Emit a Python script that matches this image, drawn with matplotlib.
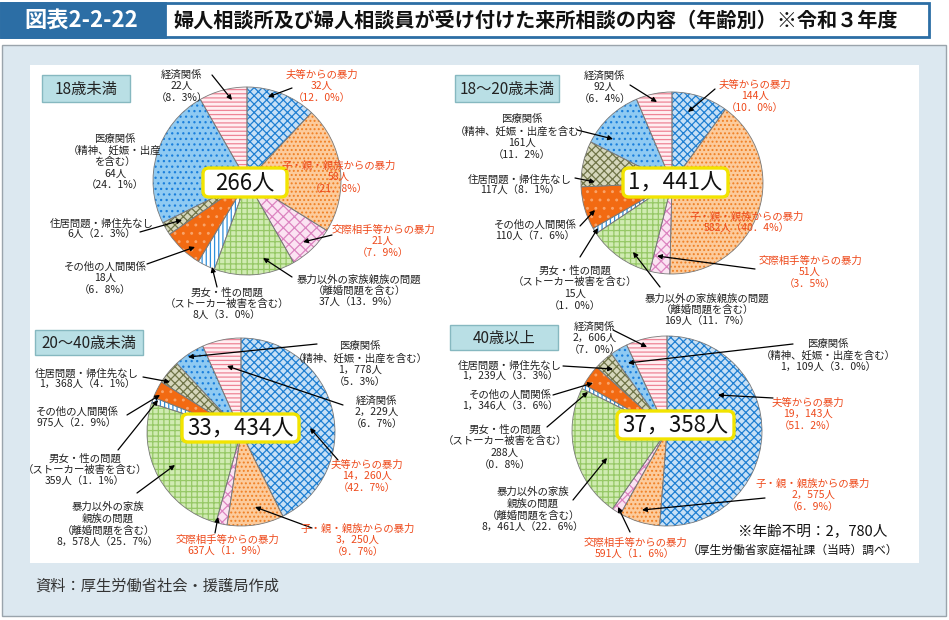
import matplotlib
matplotlib.use("Agg")
import matplotlib.pyplot as plt
from matplotlib.patches import Rectangle, FancyBboxPatch

plt.rcParams['font.family'] = ['Noto Sans CJK JP', 'DejaVu Sans']
plt.rcParams['hatch.linewidth'] = 0.9

W, H = 949, 620

# data
categories = ['夫等からの暴力', '子・親・親族からの暴力', '交際相手等からの暴力',
              '暴力以外の家族親族の問題', '男女・性の問題', 'その他の人間関係',
              '住居問題・帰住先なし', '医療関係', '経済関係']
age_groups = ['18歳未満', '18～20歳未満', '20～40歳未満', '40歳以上']
under18 = [32, 58, 21, 37, 8, 18, 6, 64, 22]
age18_20 = [144, 582, 51, 169, 15, 110, 117, 161, 92]
age20_40 = [14260, 3250, 637, 8578, 359, 975, 1368, 1778, 2229]
over40 = [19143, 2575, 591, 8461, 288, 1346, 1239, 1109, 2606]
unknown_age = 2780

title = '婦人相談所及び婦人相談員が受け付けた来所相談の内容（年齢別）※令和３年度'
fig_no = '図表2-2-22'
source = '資料：厚生労働省社会・援護局作成'
note = '（厚生労働省家庭福祉課（当時）調べ）'

# label texts per pie (category order)
tpl_18 = ['夫等からの暴力\n{n}人\n{p}', '子・親・親族からの暴力\n{n}人\n{p}',
          '交際相手等からの暴力\n{n}人\n{p}', '暴力以外の家族親族の問題\n（離婚問題を含む）\n{n}人{p}',
          '男女・性の問題\n（ストーカー被害を含む）\n{n}人{p}', 'その他の人間関係\n{n}人\n{p}',
          '住居問題・帰住先なし\n{n}人{p}', '医療関係\n（精神、妊娠・出産\nを含む）\n{n}人\n{p}',
          '経済関係\n{n}人\n{p}']
tpl_18_20 = ['夫等からの暴力\n{n}人\n{p}', '子・親・親族からの暴力\n{n}人{p}',
             '交際相手等からの暴力\n{n}人\n{p}', '暴力以外の家族親族の問題\n（離婚問題を含む）\n{n}人{p}',
             '男女・性の問題\n（ストーカー被害を含む）\n{n}人\n{p}', 'その他の人間関係\n{n}人{p}',
             '住居問題・帰住先なし\n{n}人{p}', '医療関係\n（精神、妊娠・出産を含む）\n{n}人\n{p}',
             '経済関係\n{n}人\n{p}']
tpl_20_40 = ['夫等からの暴力\n{n}人\n{p}', '子・親・親族からの暴力\n{n}人\n{p}',
             '交際相手等からの暴力\n{n}人{p}', '暴力以外の家族\n親族の問題\n（離婚問題を含む）\n{n}人{p}',
             '男女・性の問題\n（ストーカー被害を含む）\n{n}人{p}', 'その他の人間関係\n{n}人{p}',
             '住居問題・帰住先なし\n{n}人{p}', '医療関係\n（精神、妊娠・出産を含む）\n{n}人\n{p}',
             '経済関係\n{n}人\n{p}']
tpl_40 = ['夫等からの暴力\n{n}人\n{p}', '子・親・親族からの暴力\n{n}人\n{p}',
          '交際相手等からの暴力\n{n}人{p}', '暴力以外の家族\n親族の問題\n（離婚問題を含む）\n{n}人{p}',
          '男女・性の問題\n（ストーカー被害を含む）\n{n}人\n{p}', 'その他の人間関係\n{n}人{p}',
          '住居問題・帰住先なし\n{n}人{p}', '医療関係\n（精神、妊娠・出産を含む）\n{n}人{p}',
          '経済関係\n{n}人\n{p}']

# layout (pixels, origin top-left)
pie_pos = [((247, 181), 94), ((672, 183), 91), ((241, 432), 94), ((667, 431), 95)]
tag_box = [(42, 75, 88, 27), (455, 75, 104, 27), (35, 330, 108, 25), (450, 325, 108, 25)]
total_box = [(203, 168, 84, 29), (623, 168, 105, 29), (182, 414, 117, 28), (617, 411, 117, 28)]
# (text x, text y, arrow start, arrow end)
lab_18 = [(322, 86, (292, 88), (268, 97)), (339, 177, None, None),
          (383, 241, (332, 235), (303, 242)), (359, 291, (292, 277), (263, 258)),
          (227, 304, (217, 287), (212, 267)), (105, 278, (147, 264), (195, 247)),
          (102, 229, (140, 232), (182, 220)), (115, 162, None, None),
          (182, 86, (212, 75), (232, 100))]
lab_18_20 = [(755, 96, (715, 89), (688, 112)), (747, 223, None, None),
             (810, 272, (755, 269), (657, 256)), (707, 310, (660, 287), (633, 252)),
             (575, 288, (580, 257), (598, 228)), (535, 231, (580, 226), (595, 210)),
             (520, 185, (575, 178), (595, 182)), (522, 137, (577, 130), (613, 139)),
             (605, 87, (630, 85), (657, 102))]
lab_20_40 = [(367, 476, (338, 460), (310, 428)), (358, 540, (312, 528), (255, 507)),
             (227, 546, (215, 533), (218, 517)), (108, 525, (137, 493), (175, 465)),
             (85, 470, (118, 450), (158, 400)), (77, 418, (127, 415), (160, 395)),
             (87, 379, (143, 377), (170, 382)), (360, 364, (317, 344), (188, 357)),
             (377, 412, (343, 405), (227, 366))]
lab_40 = [(808, 414, (773, 398), (718, 395)), (813, 495, (765, 498), (642, 510)),
          (635, 549, (630, 532), (618, 507)), (533, 510, (573, 500), (607, 458)),
          (505, 447, (547, 427), (588, 392)), (510, 401, (553, 395), (593, 383)),
          (510, 371, (563, 366), (613, 369)), (828, 356, (793, 344), (628, 363)),
          (595, 338, (613, 330), (647, 347))]

faces = ['#c6e0f6', '#fccb9c', '#fbe3f2', '#d0ebb2', '#ffffff', '#f26a12', '#d6d7bc', '#8fcaf2', '#ffeef1']
hcols = ['#1f7fd2', '#f08024', '#dc84c0', '#96c866', '#2e90dc', '#f9a46a', '#6f7448', '#1a7fdc', '#ee8496']
hatches = ['xxxx', '....', 'xxx', '+++', '||||', '..', 'xxxx', '...', '----']
red = '#ee4a1c'


def fmt_n(v):
    return f'{v:,}'.replace(',', '，')


def fmt_p(v, tot):
    return '（' + f'{v / tot * 100:.1f}'.replace('.', '．') + '%）'


fig = plt.figure(figsize=(W / 100, H / 100), dpi=100)
ax = fig.add_axes([0, 0, 1, 1])

# backgrounds
ax.add_patch(Rectangle((2, 45), 944, 571, facecolor='#dce8f0', edgecolor='#9aa4ac', lw=1, zorder=0))
ax.add_patch(Rectangle((30, 65), 889, 498, facecolor='white', edgecolor='none', zorder=0))
ax.add_patch(Rectangle((1, 3), 928, 34, facecolor='white', edgecolor='#2c6ea5', lw=2, zorder=0))
ax.add_patch(Rectangle((1, 3), 164, 34, facecolor='#2c6ea5', edgecolor='#2c6ea5', lw=2, zorder=0))
ax.text(81, 20, fig_no, color='white', fontsize=16, fontweight='bold', ha='center', va='center')
ax.text(173, 20, title, color='#111111', fontsize=14.5, fontweight='bold', ha='left', va='center')
ax.text(35, 586, source, color='#333333', fontsize=11, ha='left', va='center')

all_vals = [under18, age18_20, age20_40, over40]
all_tpl = [tpl_18, tpl_18_20, tpl_20_40, tpl_40]
all_lab = [lab_18, lab_18_20, lab_20_40, lab_40]

for k, vals in enumerate(all_vals):
    (cx, cy), r = pie_pos[k]
    tot = sum(vals)
    wedges, _ = ax.pie(vals, center=(cx, cy), radius=r, startangle=-90, counterclock=True,
                       frame=True, wedgeprops=dict(linewidth=0))
    for w, f, hc, h in zip(wedges, faces, hcols, hatches):
        w.set_facecolor(f)
        w.set_edgecolor(hc)
        w.set_hatch(h)
        w.set_zorder(2)
    outl, _ = ax.pie(vals, center=(cx, cy), radius=r, startangle=-90, counterclock=True,
                     frame=True, wedgeprops=dict(fill=False, edgecolor='#7a7a7a', linewidth=0.6))
    for w in outl:
        w.set_zorder(3)

    # age tag
    x0, y0, bw, bh = tag_box[k]
    ax.add_patch(Rectangle((x0, y0), bw, bh, facecolor='#b9dfe5', edgecolor='#86b8c0', lw=1, zorder=4))
    ax.text(x0 + bw / 2, y0 + bh / 2 + 1, age_groups[k], fontsize=11, ha='center', va='center',
            color='#222222', zorder=5)

    # total box
    x0, y0, bw, bh = total_box[k]
    ax.add_patch(FancyBboxPatch((x0, y0), bw, bh, boxstyle='round,pad=0,rounding_size=6',
                                facecolor='white', edgecolor='#f2e400', lw=2.4, zorder=4))
    ax.text(x0 + bw / 2, y0 + bh / 2 + 1, fmt_n(tot) + '人', fontsize=16, ha='center', va='center',
            color='#111111', zorder=5)

    # labels and arrows
    for i, (tx, ty, a0, a1) in enumerate(all_lab[k]):
        s = all_tpl[k][i].format(n=fmt_n(vals[i]), p=fmt_p(vals[i], tot))
        col = red if i < 3 else '#222222'
        ax.text(tx, ty, s, fontsize=7.5, color=col, ha='center', va='center',
                multialignment='center', linespacing=1.2, zorder=7)
        if a0 is not None:
            ax.annotate('', xy=a1, xytext=a0,
                        arrowprops=dict(arrowstyle='-|>', color='black', lw=0.9,
                                        mutation_scale=7, shrinkA=0, shrinkB=0), zorder=6)

ax.text(813, 531, '※年齢不明：' + fmt_n(unknown_age) + '人', fontsize=10.5, ha='center', va='center',
        color='#111111')
ax.text(793, 550, note, fontsize=8.5, ha='center', va='center', color='#111111')

ax.set_xlim(0, W)
ax.set_ylim(H, 0)
ax.set_aspect('equal')
ax.set_axis_off()
fig.savefig('out.png', dpi=100)
